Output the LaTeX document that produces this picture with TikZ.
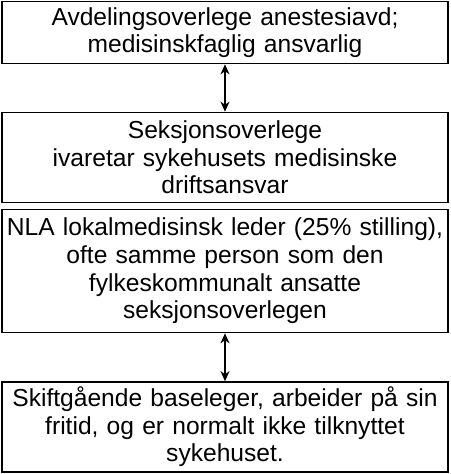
\documentclass[tikz,border=0pt]{standalone}
\usepackage{fontspec}
\setmainfont{Liberation Sans}
\usetikzlibrary{arrows,arrows.meta,positioning}
\tikzset{
	orgbox/.style={draw, line width=1.6pt, minimum width=445pt, text width=446pt, align=center, inner sep=0pt, font=\fontsize{24.6}{27.6}\selectfont},
	link/.style={{Stealth[length=10pt,width=9pt,inset=3pt]}-{Stealth[length=10pt,width=9pt,inset=3pt]}, line width=1.4pt},
}
\begin{document}
\begin{tikzpicture}
[x=1pt, y=1pt]
\useasboundingbox (0,0) rectangle (450,-474);
\def\mid{225}
\node[orgbox, minimum height=62pt] (avd) at (\mid,-32.5) {Avdelingsoverlege anestesiavd;\\ medisinskfaglig ansvarlig};
\node[orgbox, minimum height=90pt] (seksjon) at (\mid,-157.5) {Seksjonsoverlege\\ ivaretar sykehusets medisinske\\ driftsansvar};
\node[orgbox, minimum height=123pt] (nla) at (\mid,-271) {NLA lokalmedisinsk leder (25\% stilling),\\ ofte samme person som den\\ fylkeskommunalt ansatte\\ seksjonsoverlegen};
\node[orgbox, minimum height=90pt] (base) at (\mid,-427) {Skiftgående baseleger, arbeider på sin\\ fritid, og er normalt ikke tilknyttet\\ sykehuset.};
\draw[link] (avd) -- (seksjon);
\draw[link] (nla) -- (base);
\end{tikzpicture}
\end{document}
